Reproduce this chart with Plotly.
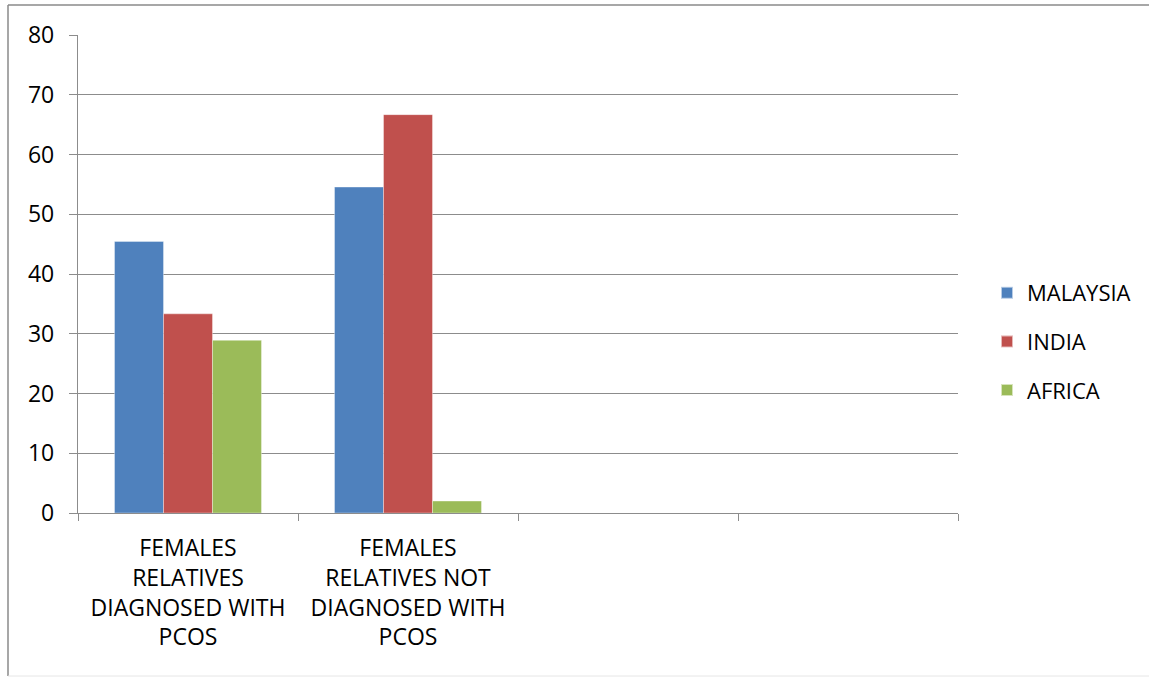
import plotly.graph_objects as go

# Category labels (two trailing empty slots keep the axis 4 categories wide)
categories = [
    "FEMALES<br>RELATIVES<br>DIAGNOSED WITH<br>PCOS",
    "FEMALES<br>RELATIVES NOT<br>DIAGNOSED WITH<br>PCOS",
    " ",
    "  ",
]
malaysia = [45.45, 54.55, None, None]
india = [33.33, 66.67, None, None]
africa = [28.9, 2.0, None, None]

series_names = ["MALAYSIA", "INDIA", "AFRICA"]
series_colors = ["#4F81BD", "#C0504D", "#9BBB59"]
y_ticks = [0, 10, 20, 30, 40, 50, 60, 70, 80]

FONT = "Open Sans, Lato, sans-serif"
GRID = "#8c8c8c"

W, H = 1149, 677
L, R, T, B = 78, 191, 35, 164
pw, ph = W - L - R, H - T - B


def px_x(p):
    return (p - L) / pw


def px_y(p):
    return (H - B - p) / ph


fig = go.Figure()
for name, vals, col in zip(series_names, [malaysia, india, africa], series_colors):
    fig.add_trace(go.Bar(
        name=name, x=categories, y=vals, legendgroup=name,
        marker=dict(color=col, line=dict(color="rgba(255,255,255,0.6)", width=0.6)),
    ))

fig.update_layout(
    width=W, height=H,
    margin=dict(l=L, r=R, t=T, b=B, pad=0),
    paper_bgcolor="white", plot_bgcolor="white",
    barmode="group", bargap=0.332, bargroupgap=0,
    font=dict(family=FONT, size=23, color="#000000"),
    showlegend=True,
    legend=dict(
        x=px_x(987), y=px_y(272), xanchor="left", yanchor="top",
        font=dict(family=FONT, size=22, color="#000000"),
        itemsizing="constant", tracegroupgap=17, traceorder="grouped",
        bgcolor="rgba(0,0,0,0)",
    ),
    xaxis=dict(
        type="category", categoryorder="array", categoryarray=categories,
        range=[-0.5, 3.5], tickson="boundaries",
        ticks="outside", ticklen=7, tickcolor=GRID, tickwidth=1.3,
        showline=True, linecolor=GRID, linewidth=1.3,
        showgrid=False, zeroline=False,
        tickfont=dict(family=FONT, size=23, color="#000000"),
        ticklabelstandoff=14,
        fixedrange=True,
    ),
    yaxis=dict(
        range=[0, 80], tickvals=y_ticks, ticktext=[str(v) for v in y_ticks],
        ticks="outside", ticklen=8, tickcolor=GRID, tickwidth=1.3,
        showline=True, linecolor=GRID, linewidth=1.3,
        showgrid=True, gridcolor=GRID, gridwidth=1.3,
        zeroline=False,
        tickfont=dict(family=FONT, size=23, color="#000000"),
        ticklabelstandoff=10,
        fixedrange=True,
    ),
    shapes=[
        dict(type="line", xref="paper", yref="paper",
             x0=px_x(8), x1=px_x(1149), y0=px_y(5), y1=px_y(5),
             line=dict(color="#8a8a8a", width=1.5)),
        dict(type="line", xref="paper", yref="paper",
             x0=px_x(8), x1=px_x(8), y0=px_y(5), y1=px_y(676),
             line=dict(color="#8a8a8a", width=1.5)),
        dict(type="line", xref="paper", yref="paper",
             x0=px_x(8), x1=px_x(1149), y0=px_y(676), y1=px_y(676),
             line=dict(color="#e6e6e6", width=1)),
    ],
)

fig.write_html("out.html", config={"displayModeBar": False})
